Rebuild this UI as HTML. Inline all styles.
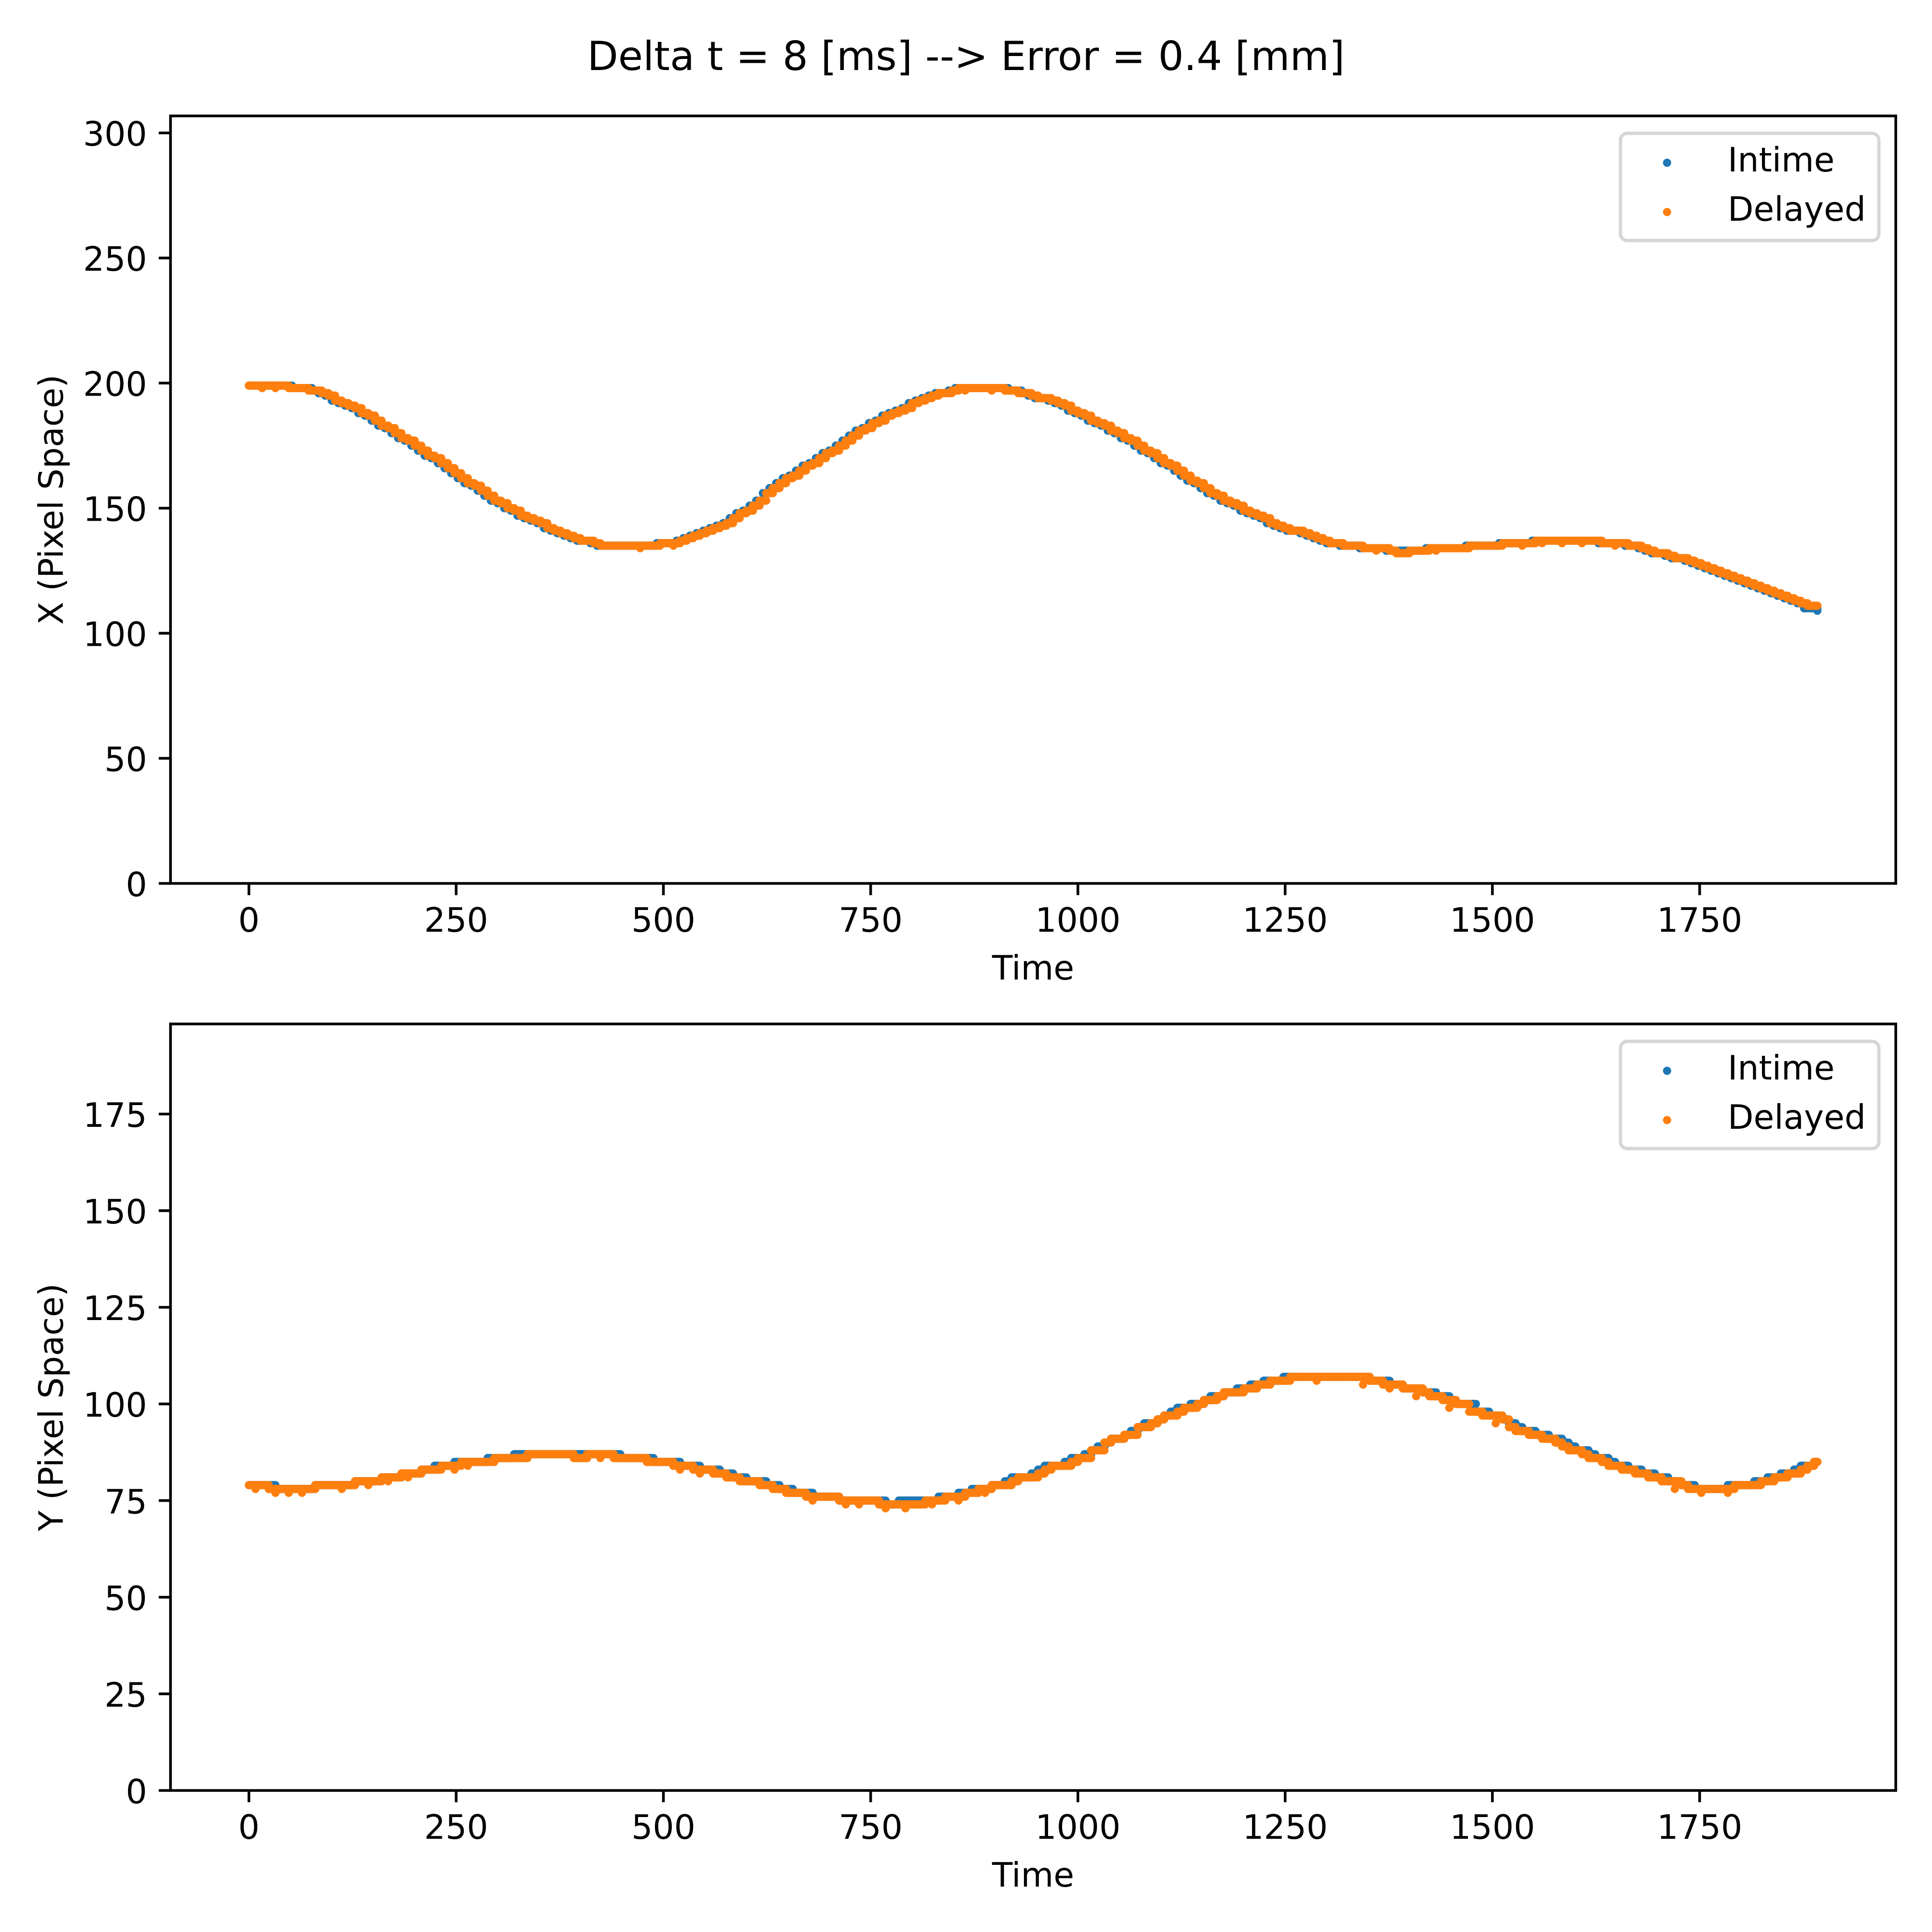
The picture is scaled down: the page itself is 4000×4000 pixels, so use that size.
<!DOCTYPE html>
<html lang="en">
<head>
<meta charset="utf-8">
<title>Delta t = 8 [ms] --> Error = 0.4 [mm]</title>
<style>
html,body{margin:0;padding:0;background:#fff;}
svg{display:block;}
text{font-family:"DejaVu Sans","Liberation Sans",sans-serif;font-size:69.44px;fill:#000;}
</style>
</head>
<body>
<svg id="chart" xmlns="http://www.w3.org/2000/svg" width="4000" height="4000" viewBox="0 0 4000 4000">
  <rect x="0" y="0" width="4000" height="4000" fill="#fff"/>
  <text x="2000" y="145" text-anchor="middle" style="font-size:83.33px">Delta t = 8 [ms] --&gt; Error = 0.4 [mm]</text>

  <g>
    <g id="topIntime"></g>
    <g id="topDelayed"></g>
    <g id="topTicks"></g>
    <rect x="353" y="240" width="3572" height="1589" fill="none" stroke="#000" stroke-width="5.55"/>
    <text x="2139" y="2028" text-anchor="middle">Time</text>
    <text transform="translate(130 1034.5) rotate(-90)" text-anchor="middle">X (Pixel Space)</text>
    <g>
      <rect x="3355" y="276" width="535" height="222" rx="14" ry="14" fill="#fff" fill-opacity="0.8" stroke="#cccccc" stroke-opacity="0.8" stroke-width="6.94"/>
      <circle cx="3451.5" cy="337" r="8.5" fill="#1f77b4"/>
      <text x="3577" y="355">Intime</text>
      <circle cx="3451.5" cy="439" r="8.5" fill="#ff7f0e"/>
      <text x="3577" y="457">Delayed</text>
    </g>
  </g>

  <g>
    <g id="botIntime"></g>
    <g id="botDelayed"></g>
    <g id="botTicks"></g>
    <rect x="353" y="2120" width="3572" height="1587" fill="none" stroke="#000" stroke-width="5.55"/>
    <text x="2139" y="3906" text-anchor="middle">Time</text>
    <text transform="translate(130 2913.5) rotate(-90)" text-anchor="middle">Y (Pixel Space)</text>
    <g>
      <rect x="3355" y="2156" width="535" height="222" rx="14" ry="14" fill="#fff" fill-opacity="0.8" stroke="#cccccc" stroke-opacity="0.8" stroke-width="6.94"/>
      <circle cx="3451.5" cy="2217" r="8.5" fill="#1f77b4"/>
      <text x="3577" y="2235">Intime</text>
      <circle cx="3451.5" cy="2319" r="8.5" fill="#ff7f0e"/>
      <text x="3577" y="2337">Delayed</text>
    </g>
  </g>
</svg>
<script>
const times = [
0,8,16,24,32,40,48,56,64,72,
80,88,96,104,112,120,128,136,144,152,
160,168,176,184,192,200,208,216,224,232,
240,248,256,264,272,280,288,296,304,312,
320,328,336,344,352,360,368,376,384,392,
400,408,416,424,432,440,448,456,464,472,
480,488,496,504,512,520,528,536,544,552,
560,568,576,584,592,600,608,616,624,632,
640,648,656,664,672,680,688,696,704,712,
720,728,736,744,752,760,768,776,784,792,
800,808,816,824,832,840,848,856,864,872,
880,888,896,904,912,920,928,936,944,952,
960,968,976,984,992,1000,1008,1016,1024,1032,
1040,1048,1056,1064,1072,1080,1088,1096,1104,1112,
1120,1128,1136,1144,1152,1160,1168,1176,1184,1192,
1200,1208,1216,1224,1232,1240,1248,1256,1264,1272,
1280,1288,1296,1304,1312,1320,1328,1336,1344,1352,
1360,1368,1376,1384,1392,1400,1408,1416,1424,1432,
1440,1448,1456,1464,1472,1480,1488,1496,1504,1512,
1520,1528,1536,1544,1552,1560,1568,1576,1584,1592,
1600,1608,1616,1624,1632,1640,1648,1656,1664,1672,
1680,1688,1696,1704,1712,1720,1728,1736,1744,1752,
1760,1768,1776,1784,1792,1800,1808,1816,1824,1832,
1840,1848,1856,1864,1872,1880,1888,1892];

const xIntime = [
199,199,199,199,199,199,199,198,198,198,
197,196,195,193,192,191,190,188,187,185,
183,182,180,178,177,175,173,171,170,168,
166,164,162,160,159,157,155,153,152,150,
149,147,146,145,144,142,141,140,139,138,
137,137,136,135,135,135,135,135,135,135,
135,135,136,136,136,137,138,139,140,141,
142,143,144,146,148,149,151,153,156,158,
160,162,163,165,167,168,170,172,173,175,
177,179,181,182,184,185,187,188,189,190,
192,193,194,195,196,196,197,198,198,198,
198,198,198,198,198,197,197,196,195,194,
194,193,192,191,189,188,187,185,184,183,
181,180,178,177,175,173,172,170,168,167,
165,163,161,160,158,156,155,153,152,151,
149,148,147,146,144,143,142,141,141,140,
139,138,137,136,136,135,135,135,134,134,
134,134,133,133,133,133,133,133,134,134,
134,134,134,134,135,135,135,135,135,136,
136,136,136,136,137,137,137,137,137,137,
137,137,137,137,136,136,136,136,135,135,
134,133,132,132,131,130,130,129,128,127,
126,125,124,123,122,121,120,119,118,117,
116,115,114,113,112,110,110,109];

const xDelayed = [
199,199,198,199,198,199,198,198,198,197,
197,196,195,193,192,191,190,188,187,185,
183,182,180,178,177,175,173,171,170,168,
166,164,162,160,159,157,155,153,152,150,
149,147,146,145,144,142,141,140,139,138,
137,137,136,135,135,135,135,135,135,134,
135,135,136,136,135,137,138,139,140,141,
142,143,144,146,148,149,151,153,156,158,
160,162,163,165,167,168,170,172,173,175,
177,179,181,182,184,185,187,188,189,190,
192,193,194,195,196,196,197,198,197,198,
198,198,197,198,197,197,196,196,195,194,
194,193,192,191,189,188,187,185,184,183,
181,180,178,177,175,173,172,170,168,167,
165,163,161,160,158,156,155,153,152,151,
149,148,147,146,144,143,142,141,141,140,
139,138,137,136,136,135,135,135,134,134,
133,134,133,132,132,133,133,133,134,133,
134,134,134,134,135,135,135,135,135,136,
136,136,135,136,137,136,137,137,136,137,
137,136,137,137,136,136,135,136,135,135,
134,133,132,132,131,130,130,129,128,127,
126,125,124,123,122,121,120,119,118,117,
116,115,114,113,112,111,111,111];

const yIntime = [
79,79,79,79,78,78,78,78,78,78,
79,79,79,79,79,79,80,80,80,80,
81,81,81,82,82,82,83,83,84,84,
84,85,85,85,85,85,86,86,86,86,
87,87,87,87,87,87,87,87,87,87,
87,87,87,87,87,87,86,86,86,86,
86,85,85,85,85,84,84,84,83,83,
83,82,82,81,81,80,80,80,79,79,
78,78,77,77,77,76,76,76,76,75,
75,75,75,75,75,75,74,74,75,75,
75,75,75,75,76,76,76,77,77,78,
78,78,79,79,80,81,81,81,82,83,
84,84,84,85,86,86,87,88,89,90,
91,91,92,93,94,95,95,96,97,98,
99,99,100,100,101,102,102,103,103,104,
104,105,105,106,106,106,107,107,107,107,
107,107,107,107,107,107,107,107,107,106,
106,106,105,105,104,104,104,103,103,102,
102,101,100,100,100,98,98,97,97,96,
95,94,93,93,92,92,91,91,90,89,
88,88,87,86,86,85,84,84,83,83,
82,82,81,81,80,80,79,79,78,78,
78,78,78,79,79,79,79,80,80,81,
81,82,82,83,84,84,85,85];

const yDelayed = [
79,78,79,78,77,78,77,78,77,78,
79,79,79,79,78,79,80,80,79,80,
81,80,81,82,81,82,83,83,83,84,
84,83,85,84,85,85,85,86,86,86,
86,86,87,87,87,87,87,87,87,86,
86,87,87,86,87,86,86,86,86,86,
85,85,85,85,84,83,84,83,82,83,
82,82,81,81,80,80,80,79,79,78,
78,77,77,77,76,75,76,76,76,75,
74,75,74,75,75,74,73,74,74,73,
74,74,75,74,75,76,76,75,77,77,
78,77,79,79,79,80,81,81,81,82,
83,84,84,84,85,86,86,88,88,90,
91,91,92,92,94,94,95,96,97,97,
98,99,99,100,101,101,102,103,103,103,
104,104,105,105,106,106,106,107,107,107,
107,106,107,107,107,107,107,107,105,106,
106,105,104,105,104,104,102,103,102,102,
101,99,100,100,98,98,97,97,95,96,
94,93,93,92,92,91,91,90,89,88,
88,87,86,86,85,84,84,83,83,82,
82,81,81,80,80,78,79,78,78,77,
78,78,78,77,79,79,79,79,80,80,
81,81,82,82,83,84,85,85];

const xTickValues = [0,250,500,750,1000,1250,1500,1750];
const topYTickValues = [0,50,100,150,200,250,300];
const botYTickValues = [0,25,50,75,100,125,150,175];

const NS = 'http://www.w3.org/2000/svg';
const AXES_LEFT = 353, AXES_RIGHT = 3925;
const TOP_AXES = {top: 240, bottom: 1829, yMax: 306.8};
const BOT_AXES = {top: 2120, bottom: 3707, yMax: 198.3};
const X_MIN = -94.6, X_MAX = 1986.6;
const TICK_LEN = 24.3, TICK_W = 5.55, MARKER_R = 8.5;
const X_PANEL_INTIME_LEAD_MS = 4;

function xScale(t) {
  return AXES_LEFT + (t - X_MIN) / (X_MAX - X_MIN) * (AXES_RIGHT - AXES_LEFT);
}
function yScaleFor(axes) {
  return function (v) {
    return axes.bottom - v / axes.yMax * (axes.bottom - axes.top);
  };
}
function drawPoints(groupId, values, yScale, color, leadMs) {
  const group = document.getElementById(groupId);
  const last = values.length - 1;
  function timeAt(i) {
    return (i === 0 || i === last) ? times[i] : times[i] - leadMs;
  }
  for (let i = 0; i < values.length; i++) {
    const el = document.createElementNS(NS, 'circle');
    
    
    el.setAttribute('cx', xScale(timeAt(i)));
    el.setAttribute('cy', yScale(values[i]));
    el.setAttribute('r', MARKER_R);
    el.setAttribute('fill', color);
    group.appendChild(el);
    if (i < last) {
      /* the dense samples between two readings hold the last level, so a one-sample dip does not break the band */
      const isDip = i > 0 && values[i] < values[i - 1] && values[i] < values[i + 1];
      const held = isDip ? values[i - 1] : values[i];
      const seg = document.createElementNS(NS, 'line');
      
      
      seg.setAttribute('x1', xScale(timeAt(i)));
      seg.setAttribute('x2', xScale(timeAt(i + 1)));
      seg.setAttribute('y1', yScale(held));
      seg.setAttribute('y2', yScale(held));
      seg.setAttribute('stroke', color);
      seg.setAttribute('stroke-width', MARKER_R * 2);
      seg.setAttribute('stroke-linecap', 'round');
      group.appendChild(seg);
    }
  }
}
function drawTicks(groupId, axes, yTicks, yScale) {
  const group = document.getElementById(groupId);
  xTickValues.forEach(function (t) {
    const x = xScale(t);
    const mark = document.createElementNS(NS, 'line');
    
    
    mark.setAttribute('x1', x);
    mark.setAttribute('x2', x);
    mark.setAttribute('y1', axes.bottom);
    mark.setAttribute('y2', axes.bottom + TICK_LEN);
    mark.setAttribute('stroke', '#000');
    mark.setAttribute('stroke-width', TICK_W);
    group.appendChild(mark);
    const label = document.createElementNS(NS, 'text');
    
    
    label.setAttribute('x', x);
    label.setAttribute('y', axes.bottom + 100);
    label.setAttribute('text-anchor', 'middle');
    label.textContent = String(t);
    group.appendChild(label);
  });
  yTicks.forEach(function (v) {
    const y = yScale(v);
    const mark = document.createElementNS(NS, 'line');
    
    
    mark.setAttribute('x1', AXES_LEFT - TICK_LEN);
    mark.setAttribute('x2', AXES_LEFT);
    mark.setAttribute('y1', y);
    mark.setAttribute('y2', y);
    mark.setAttribute('stroke', '#000');
    mark.setAttribute('stroke-width', TICK_W);
    group.appendChild(mark);
    const label = document.createElementNS(NS, 'text');
    
    
    label.setAttribute('x', 304.5);
    label.setAttribute('y', y + 26.5);
    label.setAttribute('text-anchor', 'end');
    label.textContent = String(v);
    group.appendChild(label);
  });
}

const topY = yScaleFor(TOP_AXES);
const botY = yScaleFor(BOT_AXES);
drawPoints('topIntime', xIntime, topY, '#1f77b4', X_PANEL_INTIME_LEAD_MS);
drawPoints('topDelayed', xDelayed, topY, '#ff7f0e', 0);
drawPoints('botIntime', yIntime, botY, '#1f77b4', 0);
drawPoints('botDelayed', yDelayed, botY, '#ff7f0e', 0);
drawTicks('topTicks', TOP_AXES, topYTickValues, topY);
drawTicks('botTicks', BOT_AXES, botYTickValues, botY);
</script>
</body>
</html>
